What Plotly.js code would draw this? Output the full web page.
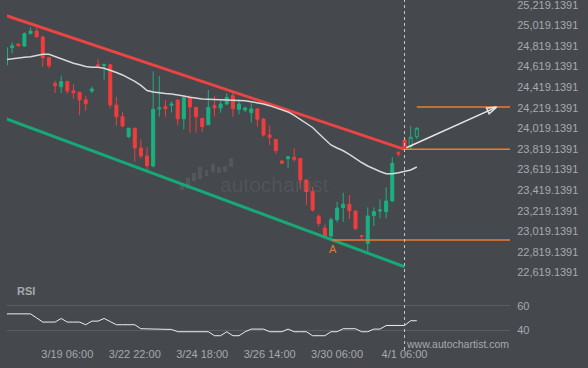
<!DOCTYPE html>
<html><head><meta charset="utf-8">
<script src="https://cdn.plot.ly/plotly-3.0.1.min.js"></script>
<style>html,body{margin:0;padding:0;background:#45484d;}#chart{width:588px;height:368px;}</style>
</head><body><div id="chart"></div>
<script>
// ---- data ----
const opens  = [24634,24802,24835,24818,24938,24964,24906,24705,24456,24423,24472,24383,24370,24296,24381,24636,24626,24636,24245,24132,23938,24020,23828,23750,23653,24207,24229,24243,24294,24112,24318,24223,24116,24054,24239,24216,24255,24336,24204,24197,24171,24207,24110,23954,23912,23702,23724,23738,23726,23517,23404,23163,23051,22974,23132,23250,23282,23216,22978,22903,23171,23216,23210,23313,23782,23906];
const highs  = [24809,24854,24847,24951,25000,24996,24918,24706,24479,24532,24481,24447,24372,24331,24425,24690,24648,24644,24323,24175,24022,24022,23912,23835,24573,24527,24294,24278,24296,24333,24343,24226,24119,24391,24333,24287,24359,24369,24301,24229,24262,24216,24119,24048,23915,23711,23745,23825,23731,23519,23452,23187,23085,23153,23304,23394,23372,23221,22983,23252,23252,23330,23446,23738,23799,23910];
const lows   = [24624,24747,24812,24812,24932,24904,24617,24602,24362,24362,24355,24304,24144,24192,24360,24605,24493,24213,24042,24029,23922,23695,23728,23608,23641,24132,24132,24171,24051,24008,23977,23977,23986,24052,24132,24171,24243,24132,24155,24175,24074,24035,23938,23857,23770,23673,23631,23695,23430,23275,23210,23064,22951,22935,23105,23112,23139,23032,22941,22821,23071,23145,23145,23309,23744,23823];
const closes = [24802,24821,24821,24938,24964,24906,24705,24627,24433,24472,24383,24364,24296,24257,24401,24626,24639,24245,24132,24042,24020,23828,23750,23656,24204,24216,24210,24255,24112,24316,24226,24132,24035,24223,24219,24255,24320,24210,24255,24216,24207,24107,23954,23932,23802,23679,23743,23718,23517,23404,23226,23095,22974,23132,23245,23282,23218,23044,22969,23168,23210,23226,23313,23679,23770,23838];

// projected (hollow) candles
const projX     = [66, 67];
const projOpen  = [23841, 23938];
const projHigh  = [24042, 24030];
const projLow   = [23815, 23915];
const projClose = [23932, 24019];

// moving average (one value per bar incl. projected)
const maValues = [24687,24697,24704,24710,24714,24729,24738,24738,24716,24692,24666,24650,24636,24619,24612,24612,24603,24585,24561,24537,24508,24474,24435,24386,24372,24363,24357,24353,24345,24333,24321,24311,24303,24300,24298,24295,24293,24291,24289,24286,24278,24268,24255,24239,24221,24202,24178,24144,24105,24066,24027,23969,23910,23857,23828,23801,23765,23723,23687,23653,23624,23600,23578,23577,23587,23597,23614,23643];

// RSI
const rsiValues = [53.4,53.4,53.4,53.4,53.4,50,46.6,46.6,46.6,49.6,46.6,46.6,46.6,44.4,47.4,47.4,49.6,47,44.4,44.4,44.4,44.4,41.1,41.1,41.1,41.1,40.8,40.5,38.6,38.6,38.6,38.6,38.6,38.6,35.3,35.3,38.6,35.3,35.3,38.6,40.8,40.8,40.8,38.6,38.6,38.6,40.8,38.6,38.6,38.6,35.3,35.3,35.3,38.6,38.6,41.1,41.1,41.1,38.6,38.6,40.8,40.8,43.8,43.8,43.8,43.8,47.7,47.7];

// channel lines
const resistance = {x:[0,65], y:[25114,23815]};
const support    = {x:[0,65], y:[24112,22675]};

// horizontal levels
const levelTarget   = 24225;
const levelBreakout = 23815;
const levelLowA     = 22935;
const levelTargetStart = 67, levelBreakoutStart = 65, levelLowStart = 53.2, levelEnd = 82.2;
const arrowFrom = {x:65.3, y:23830};
const arrowTo   = {x:80,   y:24225};
const breakoutBar = 65;
const pointA = {x:53.4, y:22935};

// axes ticks
const xTickIdx  = [10,21,32,43,54,65];
const xTickText = ['3/19 06:00','3/22 22:00','3/24 18:00','3/26 14:00','3/30 06:00','4/1 06:00'];
const yTickVals = [22619.1391,22819.1391,23019.1391,23219.1391,23419.1391,23619.1391,23819.1391,24019.1391,24219.1391,24419.1391,24619.1391,24819.1391,25019.1391,25219.1391];
const rsiTicks  = [40,60];

// ---- styling ----
const BG = '#45484d';
const TXT = '#a7aaae';
const GREEN = '#1bb07f';
const RED = '#f03d3d';
const ORANGE = '#f07a32';

const barX = opens.map((_, i) => i);
const maX = maValues.map((_, i) => i);
const rsiX = rsiValues.map((_, i) => i);

const traces = [
  {type:'scatter', mode:'lines', x:support.x, y:support.y, line:{color:'#17a877', width:3}, hoverinfo:'skip'},
  {type:'scatter', mode:'lines', x:resistance.x, y:resistance.y, line:{color:'#e84543', width:3}, hoverinfo:'skip'},
  {type:'scatter', mode:'lines', x:maX, y:maValues, line:{color:'#d9d9d9', width:1.5}, hoverinfo:'skip'},
  {type:'candlestick', x:barX, open:opens, high:highs, low:lows, close:closes,
   increasing:{line:{color:GREEN, width:1}, fillcolor:GREEN},
   decreasing:{line:{color:RED, width:1}, fillcolor:RED}, whiskerwidth:0, hoverinfo:'skip'},
  {type:'candlestick', x:projX, open:projOpen, high:projHigh, low:projLow, close:projClose,
   increasing:{line:{color:GREEN, width:1}, fillcolor:BG},
   decreasing:{line:{color:GREEN, width:1}, fillcolor:BG}, whiskerwidth:0, hoverinfo:'skip'},
  {type:'scatter', mode:'lines', x:[levelTargetStart, levelEnd], y:[levelTarget, levelTarget], line:{color:ORANGE, width:1.5}, hoverinfo:'skip'},
  {type:'scatter', mode:'lines', x:[levelBreakoutStart, levelEnd], y:[levelBreakout, levelBreakout], line:{color:ORANGE, width:1.5}, hoverinfo:'skip'},
  {type:'scatter', mode:'lines', x:[levelLowStart, levelEnd], y:[levelLowA, levelLowA], line:{color:ORANGE, width:1.5}, hoverinfo:'skip'},
  {type:'scatter', mode:'lines+markers', x:[arrowFrom.x, arrowTo.x], y:[arrowFrom.y, arrowTo.y],
   line:{color:'#e6e6e6', width:1.5},
   marker:{symbol:['circle','arrow-open'], size:[1,10], opacity:[0,1], angleref:'previous', color:'#e6e6e6', line:{color:'#e6e6e6', width:1.5}},
   hoverinfo:'skip'},
  {type:'scatter', mode:'lines', x:rsiX, y:rsiValues, xaxis:'x', yaxis:'y2', line:{color:'#eeeeee', width:1}, hoverinfo:'skip'}
];

// watermark icon bars (pixel-placed decoration)
const L = 7, W = 503, H = 368;
const px = v => (v - L) / W, py = v => 1 - v / H;
const wmBars = [[180,184,183,190],[186,190,178,189],[192,196,173,181],[198,202,167,179],[205,208,170,176],[211,215,164,172],[217,221,167,173],[223,227,166,172],[229,233,158,167]];
const shapes = wmBars.map(b => ({type:'rect', xref:'paper', yref:'paper', x0:px(b[0]), x1:px(b[1]), y0:py(b[3]), y1:py(b[2]), fillcolor:'rgba(255,255,255,0.08)', line:{width:0}, layer:'below'}));
shapes.push({type:'line', xref:'x', yref:'paper', x0:breakoutBar, x1:breakoutBar, y0:py(350), y1:1, line:{color:'#c8c8c8', width:1, dash:'3px,3px'}});

const layout = {
  width:588, height:368, margin:{l:7, r:78, t:0, b:0},
  paper_bgcolor:BG, plot_bgcolor:BG, showlegend:false, hovermode:false,
  font:{family:'Liberation Sans, Arial, sans-serif', size:11, color:TXT},
  xaxis:{range:[0.16, 82.2], anchor:'y2', tickvals:xTickIdx, ticktext:xTickText, showgrid:false, zeroline:false, showline:false, ticks:'', rangeslider:{visible:false}, fixedrange:true, tickfont:{size:11, color:TXT}},
  yaxis:{domain:[0.2228, 1], range:[22488, 25264.8], side:'right', anchor:'x', tickvals:yTickVals, tickformat:',.4f', showgrid:false, zeroline:false, showline:false, ticks:'outside', ticklen:4, tickcolor:'rgba(0,0,0,0)', ticklabeloverflow:'allow', tickfont:{size:11, color:TXT}},
  yaxis2:{domain:[0.0598, 0.2065], range:[26.8, 71.5], side:'right', anchor:'x', tickvals:rsiTicks, showgrid:true, gridcolor:'#5a5e63', gridwidth:1, zeroline:false, showline:false, ticks:'outside', ticklen:4, tickcolor:'rgba(0,0,0,0)', tickfont:{size:11, color:TXT}},
  shapes:shapes,
  annotations:[
    {xref:'paper', yref:'paper', x:px(274), y:py(184), text:'autochartist', showarrow:false, font:{size:21, color:'rgba(255,255,255,0.085)', family:'Liberation Sans, Arial, sans-serif'}, xanchor:'center', yanchor:'middle'},
    {xref:'x', yref:'y', x:pointA.x, y:pointA.y, text:'A', showarrow:false, yanchor:'top', yshift:-1, font:{size:11, color:'#e07a45'}},
    {xref:'paper', yref:'paper', x:px(15), y:py(291), text:'<b>RSI</b>', showarrow:false, xanchor:'left', yanchor:'middle', font:{size:11, color:TXT}},
    {xref:'paper', yref:'paper', x:px(404), y:py(344), text:'www.autochartist.com', showarrow:false, xanchor:'left', yanchor:'middle', font:{size:10.5, color:TXT}}
  ]
};

Plotly.newPlot('chart', traces, layout, {staticPlot:true, displayModeBar:false});
</script>
</body></html>
